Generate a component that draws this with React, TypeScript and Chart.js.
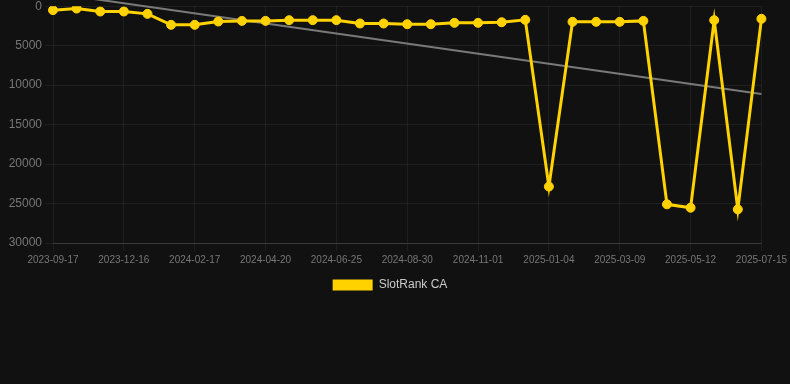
import React, { useEffect, useRef } from "react";
import { Chart, registerables } from "chart.js";

Chart.register(...registerables);

const dates: string[] = [
  "2023-09-17", "2023-10-20", "2023-11-18", "2023-12-16", "2024-01-12", "2024-02-01",
  "2024-02-17", "2024-03-10", "2024-03-30", "2024-04-20", "2024-05-12", "2024-06-03",
  "2024-06-25", "2024-07-18", "2024-08-08", "2024-08-30", "2024-09-21", "2024-10-11",
  "2024-11-01", "2024-11-22", "2024-12-13", "2025-01-04", "2025-01-25", "2025-02-16",
  "2025-03-09", "2025-03-30", "2025-04-20", "2025-05-12", "2025-06-02", "2025-06-23",
  "2025-07-15",
];

const slotRank: number[] = [
  500, 300, 670, 670, 970, 2360, 2360, 1940, 1860, 1860, 1770, 1770, 1770, 2190, 2190,
  2280, 2280, 2110, 2110, 2030, 1730, 22850, 1980, 1980, 1980, 1860, 25100, 25530, 1770,
  25740, 1600,
];

const trendStart = -1650;
const trendEnd = 11130;

const yTicks: number[] = [0, 5000, 10000, 15000, 20000, 25000, 30000];

const legendShift = {
  id: "legendShift",
  afterLayout(chart: any) {
    if (chart.legend) {
      chart.legend.left -= 5;
      chart.legend.right -= 5;
    }
  },
};

export default function App() {
  const ref = useRef<HTMLCanvasElement | null>(null);

  useEffect(() => {
    document.body.style.margin = "0";
    document.body.style.background = "#111111";
    if (!ref.current) return;
    Chart.defaults.font.family = "Arial, 'Liberation Sans', Helvetica, sans-serif";
    const trend = dates.map((_, i) => (i === 0 ? trendStart : i === dates.length - 1 ? trendEnd : null));
    const chart = new Chart(ref.current, {
      type: "line",
      data: {
        labels: dates,
        datasets: [
          {
            label: "SlotRank CA",
            data: slotRank,
            borderColor: "#FFD200",
            backgroundColor: "#FFD200",
            borderWidth: 3,
            pointRadius: 4.5,
            pointBorderWidth: 1,
            pointBackgroundColor: "#FFD200",
            pointBorderColor: "#FFD200",
            tension: 0,
            borderJoinStyle: "miter",
          },
          {
            label: "trend",
            data: trend,
            borderColor: "rgba(140,140,140,0.85)",
            backgroundColor: "rgba(140,140,140,0.85)",
            borderWidth: 2,
            pointRadius: 0,
            spanGaps: true,
            clip: false as any,
          },
        ],
      },
      plugins: [legendShift],
      options: {
        animation: false,
        responsive: false,
        maintainAspectRatio: false,
        layout: { padding: { left: 0, right: 0, top: 0, bottom: 83 } },
        plugins: {
          legend: {
            position: "bottom",
            labels: {
              color: "#cccccc",
              font: { size: 12 },
              boxWidth: 40,
              boxHeight: 11,
              filter: (item: any) => item.text !== "trend",
              generateLabels: (ch: any) => {
                const items = Chart.defaults.plugins.legend.labels.generateLabels(ch);
                return items.map((it: any) => ({ ...it, lineWidth: 0, strokeStyle: "rgba(0,0,0,0)" }));
              },
            },
          },
          tooltip: { enabled: false },
        },
        scales: {
          x: {
            grid: {
              color: (ctx: any) => (ctx.index % 3 === 0 ? "rgba(255,255,255,0.06)" : "rgba(0,0,0,0)"),
              tickColor: (ctx: any) => (ctx.index % 3 === 0 ? "rgba(255,255,255,0.06)" : "rgba(0,0,0,0)"),
            },
            border: { color: "rgba(255,255,255,0.12)" },
            ticks: {
              color: "#777777",
              font: { size: 10 },
              autoSkip: false,
              maxRotation: 0,
              callback: (_v: any, i: number) => (i % 3 === 0 ? dates[i] : ""),
            },
          },
          y: {
            reverse: true,
            min: yTicks[0],
            max: yTicks[yTicks.length - 1],
            afterBuildTicks: (axis: any) => {
              axis.ticks = yTicks.map((v) => ({ value: v }));
            },
            afterFit: (axis: any) => {
              axis.width = 53;
            },
            grid: { color: "rgba(255,255,255,0.06)" },
            border: { display: false },
            ticks: { color: "#777777", font: { size: 12 }, callback: (v: any) => String(v) },
          },
        },
      },
    });
    return () => chart.destroy();
  }, []);

  return (
    <div style={{ width: 790, height: 384, background: "#111111", overflow: "hidden" }}>
      <canvas ref={ref} width={790} height={388} style={{ display: "block", marginTop: -4 }} />
    </div>
  );
}
